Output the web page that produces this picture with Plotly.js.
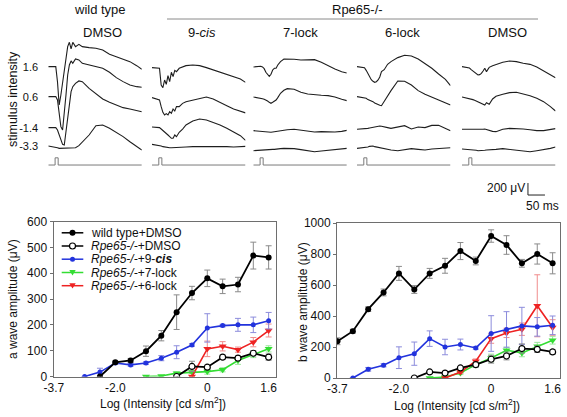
<!DOCTYPE html>
<html>
<head>
<meta charset="utf-8">
<script src="https://cdn.plot.ly/plotly-3.0.1.min.js"></script>
<style>html,body{margin:0;padding:0;background:#fff}#chart{width:567px;height:417px}</style>
</head>
<body>
<div id="chart"></div>
<script>
// ---------- DATA: intensity-response (bottom panels) ----------
const stepIndex = [0,1,2,3,4,5,6,7,8,9,10,11,12,13,14];
const tickIndex = [0,4,10,14];
const tickLabels = ['-3.7','-2.0','0','1.6'];
const seriesNames = ['wild type+DMSO','<i>Rpe65-/-</i>+DMSO','<i>Rpe65-/-</i>+9-<b><i>cis</i></b>','<i>Rpe65-/-</i>+7-lock','<i>Rpe65-/-</i>+6-lock'];

const _ = null;
// a wave amplitude (uV)
const wtA     = [_,_,_,0,55,62,98,158,249,323,380,349,356,468,461];
const wtAErr  = [_,_,_,0,5,8,20,20,67,26,32,28,28,52,45];
const rdA     = [_,_,_,_,_,_,_,_,0,39,36,75,71,90,75];
const rdAErr  = [_,_,_,_,_,_,_,_,0,20,8,8,8,10,12];
const cisA    = [_,_,0,17,52,45,52,71,94,122,188,197,200,200,216];
const cisAErr = [_,_,0,15,5,5,5,10,25,5,55,5,25,30,32];
const l7A     = [_,_,_,_,_,_,0,2,13,17,19,26,62,85,107];
const l7AErr  = [_,_,_,_,_,_,0,0,5,5,10,8,15,12,12];
const l6A     = [_,_,_,_,_,_,_,_,_,0,107,117,104,133,178];
const l6AErr  = [_,_,_,_,_,_,_,_,_,0,30,18,10,18,25];
// b wave amplitude (uV)
const wtB     = [237,302,444,552,675,571,675,724,819,755,916,858,740,800,740];
const wtBErr  = [22,12,15,22,45,25,32,48,55,25,40,60,25,65,68];
const rdB     = [_,_,_,_,_,0,39,32,65,86,121,142,190,185,168];
const rdBErr  = [_,_,_,_,_,0,5,5,8,15,25,25,30,20,15];
const cisB    = [_,0,56,82,131,157,254,200,216,194,287,313,336,330,340];
const cisBErr = [_,0,12,10,70,75,50,50,35,8,115,115,120,60,60];
const l7B     = [_,_,_,_,_,_,0,6,32,86,129,179,162,205,244];
const l7BErr  = [_,_,_,_,_,_,0,5,10,15,25,20,25,25,25];
const l6B     = [_,_,_,_,_,_,_,0,39,108,254,291,315,466,326];
const l6BErr  = [_,_,_,_,_,_,_,0,10,15,30,30,40,200,50];

// ---------- DATA: ERG traces (top panel), time in ms, amplitude in uV ----------
const ergTime = [0,22,27,32,37,42,47,52,57,62,67,72,80,90,100,120,140,160,180,200,220,240,260,275];
const stimTime = [0,20,20,29,29,275];
const stimAmp  = [0,0,120,120,0,0];
const intensityLabels = ['1.6','0.6','-1.4','-3.3'];
const panelLabels = ['DMSO','9-<i>cis</i>','7-lock','6-lock','DMSO'];

const wt16  = [6,6,-245,-634,-467,-245,-22,172,339,411,300,411,339,378,339,322,311,284,211,172,133,89,22,-39];
const wt06  = [6,6,-50,-245,-495,-550,-300,33,367,534,601,561,634,617,561,534,506,478,411,322,256,200,172,161];
const wtm14 = [6,6,-33,-117,-200,-272,-284,-61,217,439,606,689,745,784,772,661,578,484,428,384,339,317,295,272];
const wtm33 = [0,-17,-28,-39,-39,-39,-39,-39,-39,-39,-39,-39,-28,6,61,183,339,350,295,228,156,72,-11,-67];

const cis16  = [-11,-22,-300,-345,-217,-289,-145,-245,-89,-161,-56,-78,-22,0,22,33,22,-11,-50,-89,-122,-161,-200,-256];
const cis06  = [-11,-50,-161,-256,-300,-278,-300,-245,-272,-200,-234,-161,-161,-106,-78,-50,-22,0,-33,-95,-145,-200,-240,-265];
const cism14 = [17,6,-17,-39,-61,-89,-117,-145,-172,-172,-117,-145,-72,-17,50,117,150,133,95,50,-6,-61,-128,-206];
const cism33 = [28,11,0,-11,-17,-22,-28,-28,-28,-28,-28,-28,-28,-22,-17,-11,-11,-6,0,-6,-11,-17,-11,-6];

const l716  = [0,11,0,-28,-89,-122,-156,-122,-50,-22,-22,33,89,133,133,128,117,122,122,78,17,-33,-78,-100];
const l706  = [0,-17,-28,-39,-50,-67,-89,-106,-89,-67,-50,-11,61,111,139,128,78,50,33,28,22,0,-39,-61];
const l7m14 = [-44,-56,-61,-67,-72,-78,-78,-72,-67,-61,-56,-50,-44,-39,-28,-22,-39,-61,-67,-61,-67,-67,-56,-39];
const l7m33 = [-78,-67,-61,-56,-56,-56,-56,-56,-56,-56,-50,-50,-44,-39,-39,-44,-61,-83,-95,-83,-72,-67,-50,-39];

const l616  = [6,-11,-56,-111,-172,-211,-239,-256,-245,-217,-167,-78,-45,45,89,156,195,184,133,61,-22,-117,-206,-311];
const l606  = [6,-17,-22,-44,-56,-61,-78,-100,-117,-128,-139,-145,-67,22,106,267,261,200,106,44,0,-44,-89,-133];
const l6m14 = [-22,-17,-11,-6,0,6,11,17,28,39,33,28,22,6,-6,17,39,-17,17,6,44,44,0,-44];
const l6m33 = [-39,-28,-22,-17,-6,0,0,-11,-17,-22,-28,-33,-44,-56,-67,-78,-61,-44,-56,-67,-50,-39,-33,-28];

const dm16  = [6,-17,-44,-67,-95,-117,-133,-128,-106,-67,-22,-78,-6,22,44,78,100,89,61,44,0,-67,-133,-178];
const dm06  = [0,-22,-33,-44,-56,-67,-78,-95,-106,-122,-133,-95,-122,-33,11,44,72,78,56,22,-22,-78,-161,-234];
const dmm14 = [-22,-22,-22,-22,-28,-28,-33,-33,-28,-22,-17,-28,-44,-56,-61,-22,-6,-6,-17,-28,-44,-44,-22,-11];
const dmm33 = [-50,-56,-61,-61,-67,-72,-78,-78,-83,-78,-72,-67,-67,-61,-56,-44,-56,-67,-83,-95,-78,-61,-39,-17];

// ---------- LAYOUT / STYLE ----------
const W = 567, H = 417;
const fx = px => px / W;
const fy = py => 1 - py / H;
const FONT = 'Liberation Sans, Arial, Helvetica, sans-serif';

const rowOffset = [2217, 1717, 1200, 900];   // vertical offset of each intensity row (uV on trace axis)
const stimOffset = 583;
const panelStartPx = [48.3, 152, 253.3, 357, 462];
const panelWidthPx = 93.5;

const colors  = ['#000000', '#000000', '#2233dd', '#33dd33', '#ee2222'];
const errCols = ['#8a8a8a', '#8a8a8a', '#8c8cdc', '#9be69b', '#f08c8c'];
const symbols = ['circle', 'circle', 'circle', 'triangle-down', 'triangle-down'];
const mSizes  = [6, 6, 5, 7, 7];
const mFill   = ['#000000', '#ffffff', '#2233dd', '#33dd33', '#ee2222'];

const aSeries = [[wtA, wtAErr], [rdA, rdAErr], [cisA, cisAErr], [l7A, l7AErr], [l6A, l6AErr]];
const bSeries = [[wtB, wtBErr], [rdB, rdBErr], [cisB, cisBErr], [l7B, l7BErr], [l6B, l6BErr]];

const traces = [];
const drawOrder = [3, 4, 2, 1, 0];
function addSeries(list, xa, ya) {
  drawOrder.forEach(i => {
    traces.push({
      type: 'scatter', mode: 'lines+markers', xaxis: xa, yaxis: ya,
      x: stepIndex, y: list[i][0], name: seriesNames[i], showlegend: false,
      line: {color: colors[i], width: i < 2 ? 1.8 : 1.6},
      marker: {symbol: symbols[i], size: mSizes[i], color: mFill[i],
               line: {color: colors[i], width: i === 1 ? 1.2 : 0}},
      error_y: {type: 'data', array: list[i][1], visible: true, color: errCols[i], thickness: 1, width: 3},
      hoverinfo: 'x+y'
    });
  });
}
addSeries(aSeries, 'x', 'y');
addSeries(bSeries, 'x2', 'y2');

// ERG traces
const panels = [
  [wt16, wt06, wtm14, wtm33],
  [cis16, cis06, cism14, cism33],
  [l716, l706, l7m14, l7m33],
  [l616, l606, l6m14, l6m33],
  [dm16, dm06, dmm14, dmm33]
];
panels.forEach((rows, p) => {
  const xa = 'x' + (p + 3);
  rows.forEach((vals, r) => {
    traces.push({
      type: 'scatter', mode: 'lines', xaxis: xa, yaxis: 'y3',
      x: ergTime, y: vals.map(v => v + rowOffset[r]), showlegend: false,
      line: {color: '#1e1e1e', width: 1.1}, hoverinfo: 'skip'
    });
  });
  traces.push({
    type: 'scatter', mode: 'lines', xaxis: xa, yaxis: 'y3',
    x: stimTime, y: stimAmp.map(v => v + stimOffset), showlegend: false,
    line: {color: '#7a7a7a', width: 1}, hoverinfo: 'skip'
  });
});

const tickFont = {family: FONT, size: 12, color: '#111'};
const boxAxis = {
  showline: true, mirror: true, linecolor: '#6e6e6e', linewidth: 1,
  showgrid: false, zeroline: false, tickfont: tickFont, fixedrange: true
};

const layout = {
  width: W, height: H,
  margin: {l: 0, r: 0, t: 0, b: 0, pad: 0},
  paper_bgcolor: '#ffffff', plot_bgcolor: 'rgba(0,0,0,0)',
  font: {family: FONT, size: 12, color: '#111'},
  showlegend: false,
  xaxis: Object.assign({}, boxAxis, {domain: [fx(53.5), fx(276)], anchor: 'y', range: [-0.03, 14.48],
          tickmode: 'array', tickvals: tickIndex, ticktext: tickLabels, ticks: ''}),
  yaxis: Object.assign({}, boxAxis, {domain: [fy(376.5), fy(221.5)], anchor: 'x', range: [0, 600],
          dtick: 100, ticks: 'outside', ticklen: 3, tickcolor: '#6e6e6e'}),
  xaxis2: Object.assign({}, boxAxis, {domain: [fx(337), fx(560)], anchor: 'y2', range: [-0.03, 14.48],
          tickmode: 'array', tickvals: tickIndex, ticktext: tickLabels, ticks: ''}),
  yaxis2: Object.assign({}, boxAxis, {domain: [fy(378), fy(223)], anchor: 'x2', range: [0, 1000],
          dtick: 200, ticks: 'outside', ticklen: 3, tickcolor: '#6e6e6e'}),
  yaxis3: {domain: [fy(215), fy(35)], anchor: 'x3', range: [-250, 2750], showline: false, showgrid: false,
          zeroline: false, ticks: 'outside', ticklen: 7, tickcolor: 'rgba(0,0,0,0)',
          tickmode: 'array', tickvals: rowOffset, ticktext: intensityLabels,
          tickfont: {family: FONT, size: 11, color: '#111'}, fixedrange: true},
  shapes: [], annotations: []
};
panelStartPx.forEach((s, p) => {
  layout['xaxis' + (p + 3)] = {domain: [fx(s), fx(s + panelWidthPx)], anchor: 'y3', range: [0, 275],
                               visible: false, fixedrange: true};
});

// top headings
const ann = layout.annotations, shp = layout.shapes;
function txt(text, px, py, size, opts) {
  ann.push(Object.assign({text: text, xref: 'paper', yref: 'paper', x: fx(px), y: fy(py),
    xanchor: 'center', yanchor: 'middle', showarrow: false,
    font: {family: FONT, size: size, color: '#111'}}, opts || {}));
}
txt('wild type', 100, 10, 13);
txt('Rpe65-/-', 357, 10, 13);
const panelLabelX = [102, 202, 300, 402, 507];
panelLabels.forEach((t, i) => txt(t, panelLabelX[i], 33, 13));
shp.push({type: 'line', xref: 'paper', yref: 'paper', x0: fx(167), x1: fx(538), y0: fy(19), y1: fy(19),
          line: {color: '#8a8a8a', width: 1}});
txt('stimulus intensity', 13, 99, 12.5, {textangle: -90});

// scale bar (200 uV, 50 ms) in DMSO panel coordinates
shp.push({type: 'line', xref: 'x7', yref: 'y3', x0: 194, x1: 194, y0: 83, y1: 283, line: {color: '#222', width: 1}});
shp.push({type: 'line', xref: 'x7', yref: 'y3', x0: 194, x1: 244, y0: 83, y1: 83, line: {color: '#222', width: 1}});
ann.push({text: '200 μV', xref: 'x7', yref: 'y3', x: 191, y: 200, xanchor: 'right', yanchor: 'middle',
          showarrow: false, font: {family: FONT, size: 12, color: '#111'}});
ann.push({text: '50 ms', xref: 'x7', yref: 'y3', x: 238, y: -100, xanchor: 'center', yanchor: 'middle',
          showarrow: false, font: {family: FONT, size: 12, color: '#111'}});

// axis titles
txt('a wave amplitude (μV)', 13, 299, 12, {textangle: -90});
txt('b wave amplitude (μV)', 303, 302, 12, {textangle: -90});
txt('Log (Intensity [cd s/m<sup>2</sup>])', 163, 403, 12);
txt('Log (Intensity [cd s/m<sup>2</sup>])', 457, 405, 12);

// legend (key) in a-wave panel
const legRows = [232.8, 246, 259.2, 272.5, 285.7];
seriesNames.forEach((name, i) => {
  const y = legRows[i];
  shp.push({type: 'line', xref: 'paper', yref: 'paper', x0: fx(61.7), x1: fx(83.3), y0: fy(y), y1: fy(y),
            line: {color: colors[i], width: 1.5}});
  const cx = 72.5;
  if (symbols[i] === 'circle') {
    const r = mSizes[i] / 2;
    shp.push({type: 'circle', xref: 'paper', yref: 'paper', x0: fx(cx - r), x1: fx(cx + r), y0: fy(y + r), y1: fy(y - r),
              fillcolor: mFill[i], line: {color: colors[i], width: i === 1 ? 1.2 : 0}});
  } else {
    const h = 3.2;
    const p = 'M ' + fx(cx - h) + ' ' + fy(y - h * 0.8) + ' L ' + fx(cx + h) + ' ' + fy(y - h * 0.8) +
              ' L ' + fx(cx) + ' ' + fy(y + h * 0.9) + ' Z';
    shp.push({type: 'path', xref: 'paper', yref: 'paper', path: p, fillcolor: colors[i], line: {width: 0}});
  }
  txt(name, 89.3, y, 12, {xanchor: 'left'});
});

Plotly.newPlot('chart', traces, layout, {displayModeBar: false, staticPlot: true});
</script>
</body>
</html>
